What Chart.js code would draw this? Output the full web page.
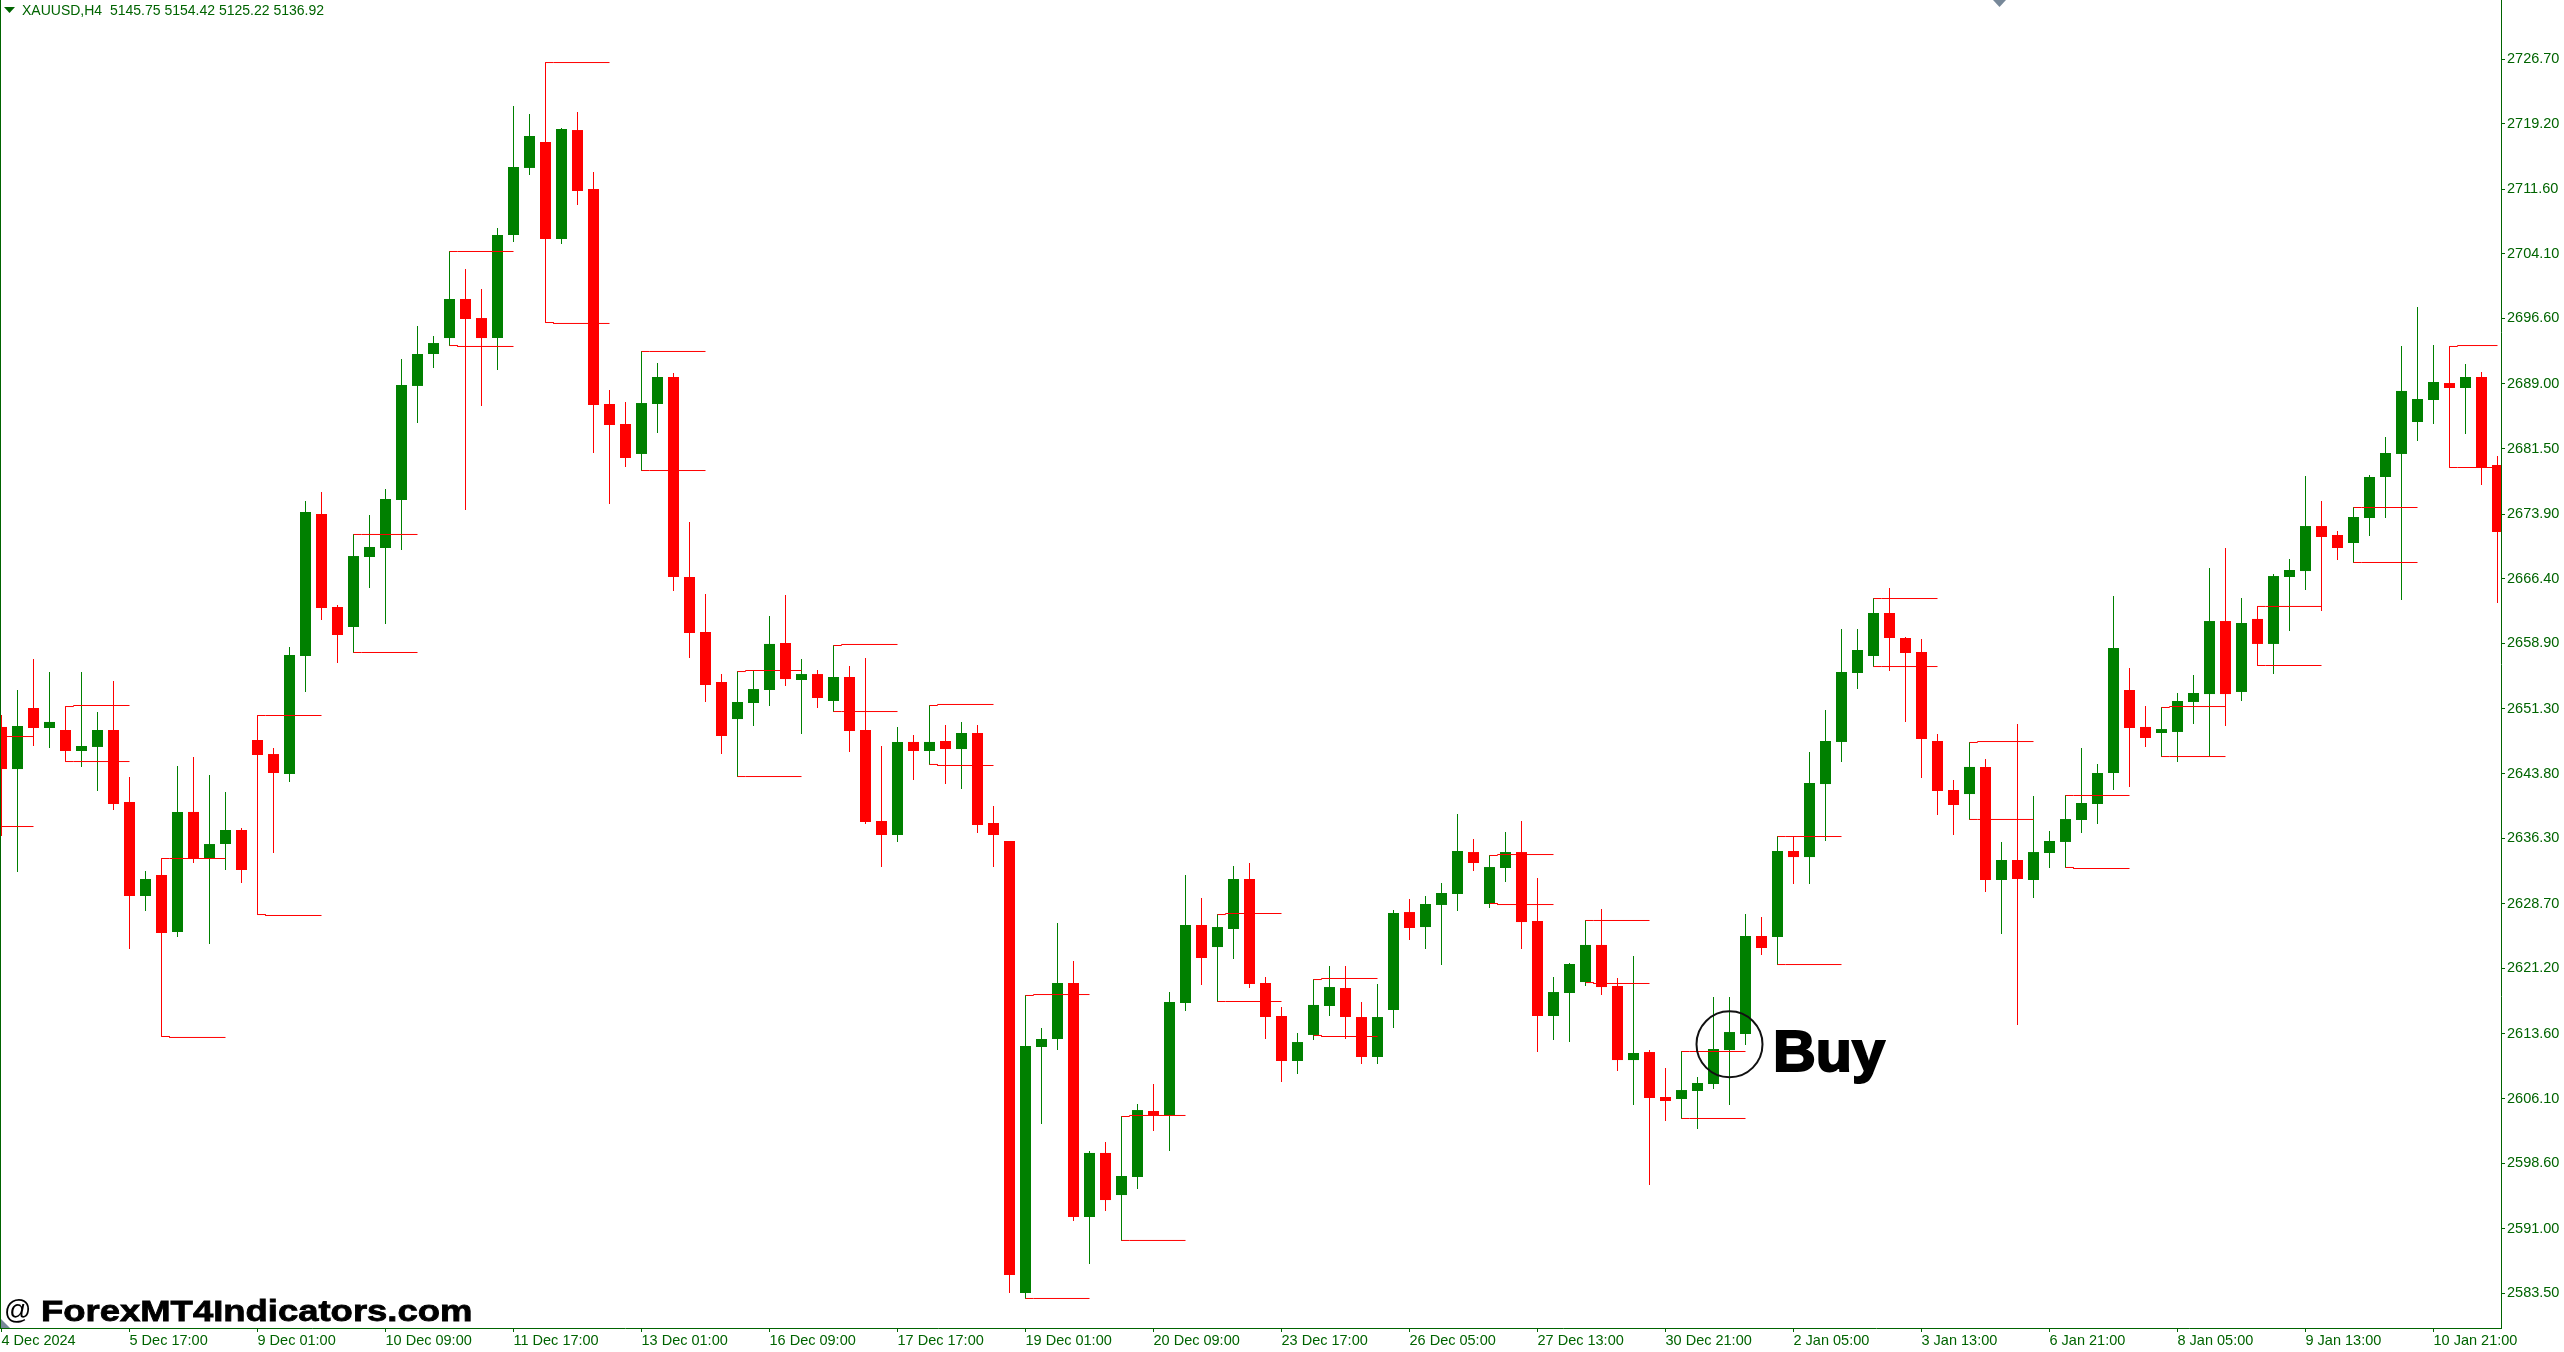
<!DOCTYPE html>
<html>
<head>
<meta charset="utf-8">
<title>XAUUSD,H4</title>
<script src="https://cdn.jsdelivr.net/npm/chart.js@4/dist/chart.umd.js"></script>
<style>
html, body { margin: 0; padding: 0; background: #fff; }
#wrap { position: relative; width: 2564px; height: 1352px; overflow: hidden; background: #fff; }
#wrap canvas { position: absolute; left: 0; top: 0; }
.note { position: absolute; white-space: pre; }
#header { left: 22px; top: 2px; font: 14px "Liberation Sans", sans-serif; color: #006400; }
#watermark-at { left: 4px; top: 1295px; font: 27px "Liberation Sans", sans-serif; color: #000; }
#watermark { left: 41px; top: 1294px; font: bold 30px "Liberation Sans", sans-serif; color: #000; -webkit-text-stroke: 0.8px #000; transform: scaleX(1.215); transform-origin: left top; }
#buy { left: 1773px; top: 1018px; font: bold 57px "Liberation Sans", sans-serif; color: #000; -webkit-text-stroke: 2px #000; transform: scaleX(1.04); transform-origin: left top; }
#leftline { position: absolute; left: 0; top: 0; width: 1px; height: 1329px; background: #006400; }
#headmark { position: absolute; left: 4px; top: 7px; width: 11px; height: 6px; background: #006400; clip-path: polygon(0 0, 100% 0, 50% 100%); }
#topmark { position: absolute; left: 1993px; top: 0; width: 13px; height: 7px; background: #778899; clip-path: polygon(0 0, 100% 0, 50% 100%); }
#cornermark { position: absolute; left: 1px; top: 1319px; width: 9px; height: 9px; background: #778899; clip-path: polygon(0 0, 100% 100%, 0 100%); }
</style>
</head>
<body>
<div id="wrap">
    <canvas id="chart" width="2564" height="1352"></canvas>
    <div id="leftline"></div>
    <div id="headmark"></div>
    <div id="topmark"></div>
    <div id="cornermark"></div>
    <div class="note" id="header">XAUUSD,H4  5145.75 5154.42 5125.22 5136.92</div>
    <div class="note" id="watermark-at">@</div>
    <div class="note" id="watermark">ForexMT4Indicators.com</div>
    <div class="note" id="buy">Buy</div>
</div>
<script>
const opens = [
    2649.21, 2644.33, 2651.41, 2649.09, 2648.86, 2646.42, 2646.89, 2648.86, 2640.51, 2629.60,
    2632.04, 2625.42, 2639.35, 2634.01, 2635.63, 2637.26, 2647.70, 2646.07, 2643.75, 2657.44,
    2673.92, 2663.13, 2660.81, 2668.93, 2669.97, 2675.54, 2688.77, 2692.48, 2694.33, 2698.86,
    2696.65, 2694.33, 2706.28, 2714.06, 2717.07, 2705.82, 2718.46, 2711.62, 2686.68, 2684.36,
    2680.88, 2686.68, 2689.81, 2666.61, 2660.23, 2654.43, 2650.13, 2651.99, 2653.50, 2658.95,
    2654.66, 2655.35, 2652.22, 2655.01, 2648.86, 2638.30, 2636.68, 2647.47, 2646.42, 2647.58,
    2646.65, 2648.51, 2638.07, 2635.98, 2583.54, 2612.08, 2613.01, 2619.51, 2592.36, 2599.79,
    2594.91, 2597.00, 2604.66, 2604.19, 2617.19, 2626.24, 2623.68, 2625.77, 2631.57, 2619.51,
    2615.68, 2610.46, 2613.48, 2616.84, 2618.93, 2615.56, 2610.92, 2616.38, 2627.74, 2626.00,
    2628.56, 2629.83, 2634.70, 2628.67, 2632.85, 2634.70, 2626.70, 2615.68, 2618.35, 2619.62,
    2623.92, 2619.16, 2610.57, 2611.50, 2606.28, 2606.05, 2606.98, 2607.79, 2611.73, 2613.59,
    2624.96, 2624.84, 2634.82, 2634.12, 2642.59, 2647.47, 2655.47, 2657.44, 2662.43, 2659.53,
    2657.91, 2647.58, 2641.90, 2641.43, 2644.57, 2631.46, 2633.78, 2631.46, 2634.59, 2635.87,
    2638.42, 2640.27, 2643.87, 2653.50, 2649.21, 2648.51, 2648.63, 2652.11, 2653.03, 2661.50,
    2653.27, 2661.74, 2658.84, 2666.61, 2667.30, 2672.52, 2671.48, 2670.55, 2673.45, 2678.21,
    2680.88, 2684.59, 2687.14, 2689.11, 2688.53, 2689.81, 2679.60
];
const closes = [
    2644.33, 2649.32, 2649.09, 2649.79, 2646.42, 2647.00, 2648.86, 2640.27, 2629.60, 2631.57,
    2625.31, 2639.35, 2634.01, 2635.63, 2637.26, 2632.62, 2645.96, 2643.87, 2657.56, 2674.15,
    2663.01, 2659.88, 2669.04, 2670.09, 2675.66, 2688.88, 2692.48, 2693.75, 2698.86, 2696.54,
    2694.33, 2706.28, 2714.17, 2717.77, 2705.82, 2718.58, 2711.39, 2686.56, 2684.24, 2680.41,
    2686.79, 2689.81, 2666.61, 2660.11, 2654.08, 2648.16, 2652.11, 2653.61, 2658.84, 2654.77,
    2655.35, 2652.57, 2655.01, 2648.74, 2638.19, 2636.68, 2647.47, 2646.42, 2647.47, 2646.65,
    2648.51, 2637.84, 2636.68, 2585.63, 2612.20, 2613.01, 2619.51, 2592.36, 2599.79, 2594.33,
    2597.12, 2604.77, 2604.19, 2617.30, 2626.24, 2622.41, 2626.00, 2631.57, 2619.39, 2615.56,
    2610.46, 2612.66, 2616.96, 2619.04, 2615.56, 2610.92, 2615.56, 2627.63, 2625.89, 2628.67,
    2629.95, 2634.82, 2633.43, 2632.96, 2634.70, 2626.58, 2615.68, 2618.46, 2621.71, 2623.92,
    2619.04, 2610.57, 2611.39, 2606.17, 2605.82, 2607.09, 2607.91, 2611.85, 2613.82, 2624.96,
    2623.57, 2634.82, 2634.12, 2642.71, 2647.58, 2655.59, 2658.14, 2662.43, 2659.53, 2657.79,
    2647.81, 2641.78, 2640.16, 2644.57, 2631.46, 2633.78, 2631.57, 2634.70, 2635.98, 2638.53,
    2640.39, 2643.87, 2658.37, 2649.09, 2647.93, 2648.97, 2652.22, 2653.15, 2661.50, 2653.03,
    2661.27, 2658.84, 2666.72, 2667.42, 2672.52, 2671.25, 2669.97, 2673.57, 2678.21, 2680.99,
    2688.19, 2687.26, 2689.23, 2688.53, 2689.81, 2679.37, 2671.83
];
const highs = [
    2650.60, 2653.50, 2657.09, 2655.59, 2649.44, 2655.59, 2650.95, 2654.54, 2643.41, 2632.50,
    2632.62, 2644.68, 2645.73, 2643.64, 2641.67, 2637.49, 2648.28, 2646.77, 2658.49, 2675.42,
    2676.47, 2663.36, 2669.51, 2673.80, 2676.82, 2691.90, 2695.73, 2694.57, 2699.32, 2702.34,
    2700.02, 2707.10, 2721.25, 2720.32, 2717.65, 2718.70, 2720.55, 2713.59, 2688.30, 2686.91,
    2687.37, 2691.43, 2690.27, 2672.99, 2664.64, 2655.35, 2652.57, 2655.82, 2662.08, 2664.52,
    2657.09, 2655.82, 2655.59, 2656.28, 2657.21, 2647.00, 2649.21, 2648.28, 2648.05, 2649.44,
    2649.79, 2649.44, 2640.04, 2635.98, 2612.90, 2614.29, 2626.47, 2622.06, 2600.02, 2601.06,
    2597.81, 2605.47, 2607.79, 2618.46, 2632.04, 2629.37, 2626.58, 2633.08, 2633.43, 2620.20,
    2616.72, 2613.71, 2617.54, 2621.48, 2621.48, 2617.30, 2619.39, 2627.98, 2629.25, 2629.60,
    2631.11, 2639.11, 2636.21, 2633.78, 2637.03, 2638.30, 2631.69, 2620.20, 2621.83, 2624.49,
    2628.09, 2620.09, 2622.64, 2611.73, 2609.65, 2607.56, 2608.60, 2617.88, 2617.88, 2627.51,
    2627.16, 2635.40, 2636.56, 2646.31, 2651.18, 2660.58, 2660.58, 2663.01, 2665.33, 2659.65,
    2659.42, 2648.39, 2643.06, 2645.15, 2645.49, 2635.87, 2649.55, 2641.20, 2637.14, 2639.00,
    2646.77, 2644.91, 2664.40, 2656.05, 2651.64, 2649.44, 2653.15, 2655.24, 2667.65, 2669.97,
    2664.17, 2662.20, 2666.96, 2668.70, 2678.32, 2675.42, 2671.94, 2674.15, 2678.44, 2682.85,
    2693.41, 2697.93, 2693.52, 2689.46, 2691.32, 2690.39, 2680.64
];
const lows = [
    2636.56, 2632.38, 2647.00, 2646.77, 2645.96, 2644.57, 2641.78, 2639.58, 2623.45, 2627.86,
    2624.49, 2624.84, 2633.43, 2624.03, 2632.62, 2631.11, 2645.38, 2634.59, 2642.83, 2653.27,
    2661.62, 2656.63, 2660.46, 2665.33, 2661.15, 2669.74, 2684.47, 2690.85, 2693.52, 2674.38,
    2686.45, 2690.62, 2705.47, 2713.24, 2705.24, 2705.24, 2709.76, 2680.99, 2675.08, 2679.37,
    2680.41, 2683.31, 2664.98, 2657.21, 2652.11, 2646.07, 2649.67, 2649.32, 2651.64, 2653.96,
    2648.39, 2651.41, 2651.76, 2646.31, 2637.95, 2632.96, 2635.87, 2643.06, 2645.96, 2642.59,
    2642.01, 2636.91, 2632.96, 2583.54, 2582.96, 2603.15, 2611.73, 2591.90, 2586.91, 2593.06,
    2594.33, 2595.61, 2602.34, 2600.02, 2616.26, 2619.28, 2623.22, 2622.29, 2618.93, 2613.01,
    2608.02, 2608.95, 2612.90, 2615.68, 2613.01, 2610.11, 2610.11, 2614.29, 2624.49, 2623.45,
    2621.60, 2627.86, 2632.50, 2628.21, 2631.22, 2623.45, 2611.50, 2612.90, 2612.66, 2619.16,
    2618.12, 2609.30, 2605.35, 2596.07, 2603.50, 2605.59, 2602.57, 2607.21, 2605.35, 2612.31,
    2622.76, 2624.38, 2630.99, 2630.99, 2635.98, 2645.15, 2653.61, 2656.98, 2655.70, 2649.79,
    2643.29, 2639.00, 2636.68, 2640.85, 2630.06, 2625.19, 2614.64, 2629.37, 2632.85, 2635.40,
    2636.91, 2637.95, 2641.90, 2642.25, 2646.89, 2648.05, 2645.15, 2649.55, 2645.84, 2649.32,
    2652.22, 2658.37, 2655.35, 2660.34, 2665.10, 2662.66, 2668.58, 2670.09, 2671.36, 2673.45,
    2663.94, 2682.39, 2684.36, 2688.07, 2683.20, 2677.28, 2663.59
];

// indicator boxes: bar where the box starts, its top and bottom price
// the first one starts left of the visible bars, only its lines show
const bracketBars = [-2, 4, 10, 16, 22, 28, 34, 40, 46, 52, 58, 64, 70, 76, 82, 93, 99, 105, 111, 117, 123, 129, 135, 141, 147, 153];
const bracketHighStart = [2648.10, 2651.58, 2633.95, 2650.54, 2671.54, 2704.37, 2726.29, 2692.77, 2655.64, 2658.66, 2651.70, 2618.06, 2604.02, 2627.45, 2619.91, 2634.30, 2626.76, 2611.56, 2636.50, 2664.11, 2647.41, 2641.26, 2651.47, 2663.19, 2674.67, 2693.35];
const bracketHigh = [2648.10, 2651.70, 2633.95, 2650.54, 2671.54, 2704.37, 2726.29, 2692.77, 2655.76, 2658.78, 2651.82, 2618.17, 2604.14, 2627.57, 2620.03, 2634.41, 2626.76, 2611.56, 2636.50, 2664.11, 2647.52, 2641.26, 2651.58, 2663.19, 2674.67, 2693.46];
const bracketLowStart = [2637.66, 2645.20, 2613.30, 2627.45, 2657.85, 2693.46, 2696.13, 2678.96, 2643.46, 2651.00, 2644.86, 2582.91, 2589.64, 2617.36, 2613.42, 2628.73, 2619.56, 2603.79, 2621.65, 2656.22, 2638.48, 2632.91, 2645.78, 2656.34, 2668.29, 2679.31];
const bracketLow = [2637.66, 2645.20, 2613.19, 2627.34, 2657.85, 2693.35, 2696.02, 2678.96, 2643.46, 2651.00, 2644.74, 2582.91, 2589.64, 2617.36, 2613.30, 2628.61, 2619.45, 2603.79, 2621.65, 2656.22, 2638.48, 2632.79, 2645.78, 2656.34, 2668.29, 2679.31];

const buyBar = 108;
const buyPrice = 2612.40;

const priceTicks = [2726.70, 2719.20, 2711.60, 2704.10, 2696.60, 2689.00, 2681.50, 2673.90, 2666.40, 2658.90, 2651.30, 2643.80, 2636.30, 2628.70, 2621.20, 2613.60, 2606.10, 2598.60, 2591.00, 2583.50];
const timeLabels = ['4 Dec 2024', '5 Dec 17:00', '9 Dec 01:00', '10 Dec 09:00', '11 Dec 17:00', '13 Dec 01:00', '16 Dec 09:00', '17 Dec 17:00', '19 Dec 01:00', '20 Dec 09:00', '23 Dec 17:00', '26 Dec 05:00', '27 Dec 13:00', '30 Dec 21:00', '2 Jan 05:00', '3 Jan 13:00', '6 Jan 21:00', '8 Jan 05:00', '9 Jan 13:00', '10 Jan 21:00'];
const barsPerLabel = 8;

const UP = '#008000';
const DOWN = '#ff0000';
const AXIS = '#006400';
const FONT = { family: '"Liberation Sans", sans-serif', size: 14.5 };

let colors = opens.map((o, i) => (closes[i] >= o ? UP : DOWN));
let wickData = opens.map((o, i) => ({ x: i, y: [lows[i], highs[i]] }));
let bodyData = opens.map((o, i) => ({ x: i, y: [Math.min(o, closes[i]), Math.max(o, closes[i])] }));

// red top and bottom lines of every box, null breaks the line
let redLines = [];
let upSides = [];
let downSides = [];
bracketBars.forEach((k, i) => {
    let end = Math.min(k + 4, opens.length - 1);
    redLines.push({ x: k, y: bracketHighStart[i] }, { x: k + 0.5, y: bracketHighStart[i] }, { x: k + 0.5, y: bracketHigh[i] }, { x: end, y: bracketHigh[i] }, { x: end, y: null });
    redLines.push({ x: k, y: bracketLowStart[i] }, { x: k + 0.5, y: bracketLowStart[i] }, { x: k + 0.5, y: bracketLow[i] }, { x: end, y: bracketLow[i] }, { x: end, y: null });
    let side = closes[k] >= opens[k] ? upSides : downSides;
    side.push({ x: k, y: bracketHighStart[i] }, { x: k, y: bracketLowStart[i] }, { x: k, y: null });
});

function lineSet(data, color, order) {
    return { type: 'line', data: data, borderColor: color, borderWidth: 1, pointRadius: 0, spanGaps: false, order: order };
}

let ctx = document.getElementById('chart');
new Chart(ctx, {
    type: 'bar',
    data: {
        datasets: [
            { data: wickData, backgroundColor: colors, grouped: false, maxBarThickness: 1, barPercentage: 1, categoryPercentage: 1, inflateAmount: 0, order: 5 },
            { data: bodyData, backgroundColor: colors, grouped: false, maxBarThickness: 11, barPercentage: 1, categoryPercentage: 1, inflateAmount: 0, order: 4 },
            lineSet(upSides, UP, 3),
            lineSet(downSides, DOWN, 3),
            lineSet(redLines, DOWN, 2),
            { type: 'scatter', data: [{ x: buyBar, y: buyPrice }], pointRadius: 33, borderWidth: 2, pointBorderColor: '#111', pointBackgroundColor: 'transparent', order: 1 }
        ]
    },
    options: {
        responsive: false,
        animation: false,
        devicePixelRatio: 1,
        layout: { padding: 0, autoPadding: false },
        plugins: { legend: { display: false }, tooltip: { enabled: false } },
        scales: {
            x: {
                type: 'linear',
                offset: false,
                min: -0.09375,
                max: 156.21875,
                afterBuildTicks: (scale) => { scale.ticks = timeLabels.map((t, i) => ({ value: i * barsPerLabel })); },
                afterFit: (scale) => { scale.height = 24; scale.paddingLeft = 0; scale.paddingRight = 0; },
                grid: { offset: false, drawOnChartArea: false, tickLength: 4, color: AXIS },
                border: { color: AXIS },
                ticks: {
                    autoSkip: false,
                    maxRotation: 0,
                    align: 'start',
                    padding: 0,
                    color: AXIS,
                    font: FONT,
                    callback: (v) => timeLabels[v / barsPerLabel]
                }
            },
            y: {
                position: 'right',
                min: 2579.4847,
                max: 2733.545,
                afterBuildTicks: (scale) => { scale.ticks = priceTicks.map((v) => ({ value: v })); },
                afterFit: (scale) => { scale.width = 63; scale.paddingTop = 0; scale.paddingBottom = 0; },
                grid: { drawOnChartArea: false, tickLength: 4, color: AXIS },
                border: { color: AXIS },
                ticks: {
                    autoSkip: false,
                    padding: 2,
                    color: AXIS,
                    font: FONT,
                    callback: (v) => v.toFixed(2)
                }
            }
        }
    }
});
</script>
</body>
</html>
